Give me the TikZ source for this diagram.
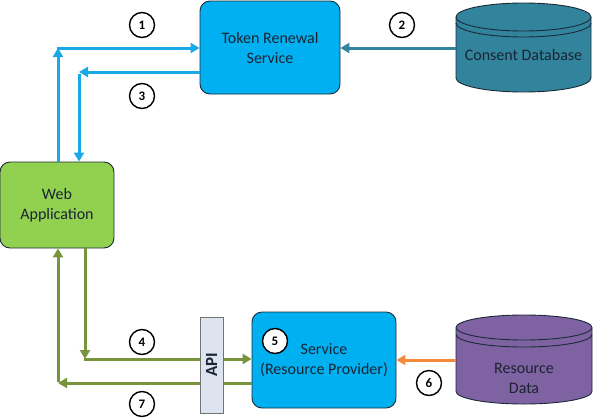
\documentclass[tikz,border=0pt]{standalone}
\usepackage{fontspec}
\setmainfont{Carlito}
\usetikzlibrary{arrows.meta}
\definecolor{boxblue}{HTML}{00B0F0}
\definecolor{lineblue}{HTML}{1AA9E6}
\definecolor{teal}{HTML}{31849B}
\definecolor{webgreen}{HTML}{92D050}
\definecolor{linegreen}{HTML}{77933C}
\definecolor{lineorange}{HTML}{F58A3C}
\definecolor{purp}{HTML}{7F62A1}
\definecolor{apifill}{HTML}{DDE3EF}
\definecolor{outline}{HTML}{1B2A3A}
\definecolor{txt}{HTML}{1A2433}
\tikzset{
  procbox/.style={draw=outline, line width=0.9pt, rounded corners=10pt, align=center,
    font=\fontsize{16}{20}\selectfont, text=txt, inner sep=0pt},
  conn/.style={line width=3pt, -{Triangle[length=9pt,width=10pt]}},
  stepnum/.style={circle, draw=black, line width=1.4pt, fill=white, minimum size=25pt,
    inner sep=0pt, font=\fontsize{13}{13}\selectfont\bfseries},
  cyltext/.style={font=\fontsize{16}{20}\selectfont, text=txt, align=center}
}
\newcommand{\mycyl}[7]{% x1 x2 ctop cbot ry off color
  \filldraw[fill=#7, draw=outline, line width=0.9pt]
    (#1,#3) -- (#1,#4) arc[start angle=180, end angle=0, x radius={(#2-#1)/2}, y radius=#5]
    -- (#2,#3) arc[start angle=0, end angle=-180, x radius={(#2-#1)/2}, y radius=#5] -- cycle;
  \draw[draw=outline, line width=0.9pt] (#1,#3) arc[start angle=180, end angle=0, x radius={(#2-#1)/2}, y radius=#5];
  \draw[draw=outline, line width=0.9pt] (#1,#3+#6) arc[start angle=180, end angle=0, x radius={(#2-#1)/2}, y radius=#5];
}
\begin{document}
\begin{tikzpicture}[x=1pt,y=-1pt]
\useasboundingbox (0,0) rectangle (594,418);
% boxes
\node[procbox, fill=boxblue, minimum width=140pt, minimum height=93pt] (token) at (270,47.5) {Token Renewal\\Service};
\node[procbox, fill=webgreen, minimum width=114pt, minimum height=86pt] (web) at (57,205) {Web\\Application};
\node[procbox, fill=boxblue, minimum width=144pt, minimum height=96pt] (svc) at (324,360) {Service\\(Resource Provider)};
% cylinders
\mycyl{456}{591}{17}{78}{14}{6}{teal}
\node[cyltext] (consent) at (523.5,55) {Consent Database};
\coordinate (consentW) at (456,48);
\mycyl{456}{592}{327.5}{391.5}{12.5}{7}{purp}
\node[cyltext] (resdata) at (524,378) {Resource\\Data};
\coordinate (resW) at (456,360);
% blue connectors
\coordinate (c1) at (58,48);
\coordinate (c3) at (79,72);
\draw[conn, lineblue] (web.north -| c1) -- (c1);
\draw[conn, lineblue] ([xshift=-1.5pt]c1) -- (token.west |- c1);
\draw[conn, lineblue] (token.west |- c3) -- (c3);
\draw[conn, lineblue] ([yshift=-1.5pt]c3) -- (web.north -| c3);
% teal
\draw[conn, teal] (consentW) -- (token.east |- consentW);
% green connectors
\coordinate (c4) at (85,359);
\coordinate (c7) at (58,383);
\draw[conn, linegreen] (web.south -| c4) -- (c4);
\draw[conn, linegreen] ([xshift=-1.5pt]c4) -- (svc.west |- c4);
\draw[conn, linegreen] (svc.west |- c7) -- (c7);
\draw[conn, linegreen] ([yshift=1.5pt]c7) -- (web.south -| c7);
% orange
\draw[conn, lineorange] (resW) -- (svc.east |- resW);
% API
\node[draw=black!55, fill=apifill, line width=0.9pt, minimum width=23pt, minimum height=96pt, inner sep=0pt] (api) at (211.5,365) {};
\node[rotate=90, font=\fontsize{17}{17}\selectfont\bfseries, text=txt] (apitext) at (api.center) {API};
% step numbers
\node[stepnum] (n1) at (142,25) {1};
\node[stepnum] (n2) at (402,25) {2};
\node[stepnum] (n3) at (142,96) {3};
\node[stepnum] (n4) at (142,342) {4};
\node[stepnum] (n5) at (275,341) {5};
\node[stepnum] (n6) at (429,383) {6};
\node[stepnum] (n7) at (142,404) {7};
\end{tikzpicture}
\end{document}
